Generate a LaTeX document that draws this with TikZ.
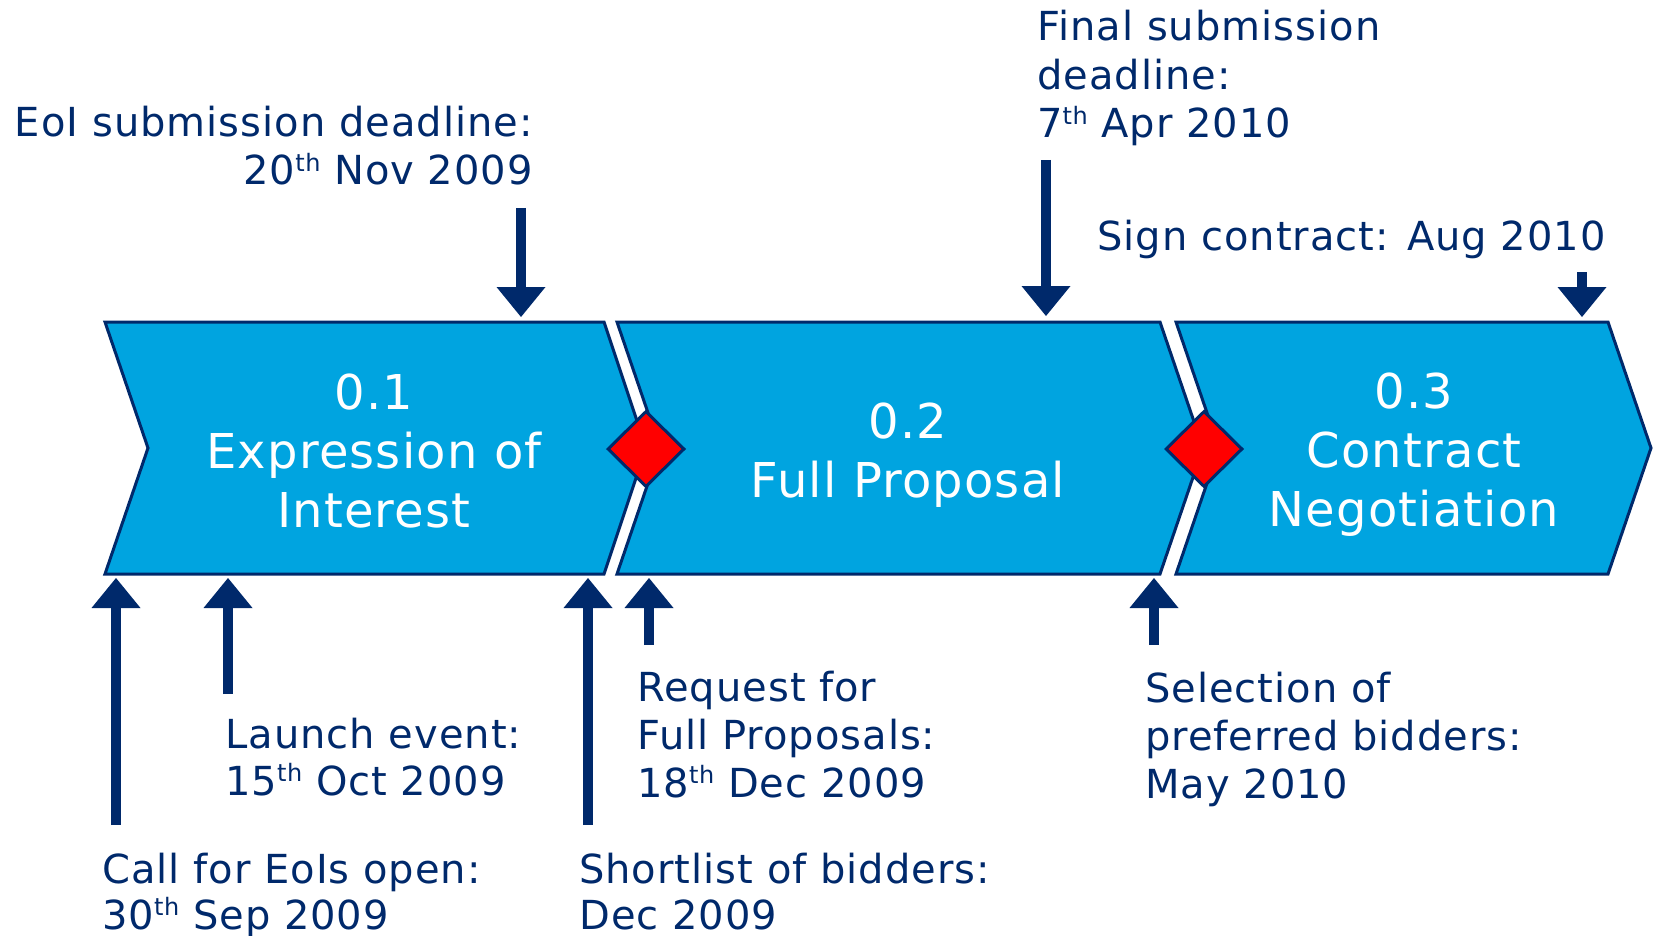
\documentclass[tikz,border=0pt]{standalone}
\usepackage{fontspec}
\setmainfont{DejaVu Sans}
\usepackage{graphicx}
\usetikzlibrary{arrows.meta,shapes.geometric}

\definecolor{navy}{RGB}{0,41,107}
\definecolor{phaseblue}{RGB}{0,164,224}
\definecolor{gatered}{RGB}{255,0,0}

% ordinal suffix, raised and reduced
\newcommand\ordth{\raisebox{0.33em}{\scalebox{0.6}{th}}}
% stacked lines; the box baseline is the baseline of the first line
\newcommand\linesL[2]{\vtop{\baselineskip=#1\halign{##\hfil\cr#2\crcr}}}
\newcommand\linesR[2]{\vtop{\baselineskip=#1\halign{\hfil##\cr#2\crcr}}}
\newcommand\linesC[2]{\vtop{\baselineskip=#1\halign{\hfil##\hfil\cr#2\crcr}}}

\begin{document}
\begin{tikzpicture}[x=1pt,y=-1pt,
  phase/.style={fill=phaseblue,draw=navy,line width=3pt,line join=miter},
  gate/.style={diamond,aspect=1,fill=gatered,draw=navy,line width=3pt,
    minimum width=77pt,minimum height=76pt,inner sep=0pt},
  milestone/.style={draw=navy,line width=10.5pt,
    -{Triangle[width=49pt,length=30pt,line width'=0pt]}},
  lbl/.style={text=navy,inner sep=0pt,
    font=\fontsize{40}{47.5}\selectfont\addfontfeature{LetterSpace=2.5}},
  phasetext/.style={text=white,inner sep=0pt,
    font=\fontsize{48}{59}\selectfont\addfontfeature{LetterSpace=2.5}}]

\useasboundingbox (0,0) rectangle (1654,936);

% ---- phase chevrons ----
\draw[phase] (105,322) -- (604,322) -- (646,448) -- (604,574) -- (105,574) -- (148,448) -- cycle;
\draw[phase] (617,322) -- (1160,322) -- (1203,448) -- (1160,574) -- (617,574) -- (660,448) -- cycle;
\draw[phase] (1176,322) -- (1608,322) -- (1651,448) -- (1608,574) -- (1176,574) -- (1219,448) -- cycle;

\node[phasetext,anchor=base] (phase1) at (374,409) {\linesC{59pt}{0.1\cr Expression of\cr Interest}};
\node[phasetext,anchor=base] (phase2) at (908,438) {\linesC{59pt}{0.2\cr Full Proposal}};
\node[phasetext,anchor=base] (phase3) at (1414,408) {\linesC{59pt}{0.3\cr Contract\cr Negotiation}};

% ---- decision gates ----
\node[gate] (gate1) at (646,449) {};
\node[gate] (gate2) at (1204,449) {};

% ---- milestone labels ----
\node[lbl,anchor=base east] (eoiLbl) at (533,137)
  {\linesR{47.5pt}{EoI submission deadline:\cr 20\ordth{} Nov 2009}};
\node[lbl,anchor=base west] (finalLbl) at (1037,41)
  {\linesL{48.5pt}{Final submission\cr deadline:\cr 7\ordth{} Apr 2010}};
\node[lbl,anchor=base west] (signLbl) at (1097,250) {Sign contract: Aug 2010};
\node[lbl,anchor=base west] (launchLbl) at (225,748)
  {\linesL{47pt}{Launch event:\cr 15\ordth{} Oct 2009}};
\node[lbl,anchor=base west] (callLbl) at (102,883)
  {\linesL{46pt}{Call for EoIs open:\cr 30\ordth{} Sep 2009}};
\node[lbl,anchor=base west] (shortLbl) at (579,883)
  {\linesL{46pt}{Shortlist of bidders:\cr Dec 2009}};
\node[lbl,anchor=base west] (requestLbl) at (637,701)
  {\linesL{48pt}{Request for\cr Full Proposals:\cr 18\ordth{} Dec 2009}};
\node[lbl,anchor=base west] (selectLbl) at (1145,702)
  {\linesL{48pt}{Selection of\cr preferred bidders:\cr May 2010}};

% ---- milestone arrows ----
\coordinate (eoiTail) at (521,208);    \coordinate (eoiTip) at (521,317);
\coordinate (finalTail) at (1046,160); \coordinate (finalTip) at (1046,316);
\coordinate (signTail) at (1582,272);  \coordinate (signTip) at (1582,317);
\coordinate (callTail) at (116,825);   \coordinate (callTip) at (116,578);
\coordinate (launchTail) at (228,694); \coordinate (launchTip) at (228,578);
\coordinate (shortTail) at (588,825);  \coordinate (shortTip) at (588,578);
\coordinate (requestTail) at (649,645);\coordinate (requestTip) at (649,578);
\coordinate (selectTail) at (1154,645);\coordinate (selectTip) at (1154,578);

\draw[milestone] (eoiTail) -- (eoiTip);
\draw[milestone] (finalTail) -- (finalTip);
\draw[milestone] (signTail) -- (signTip);
\draw[milestone] (callTail) -- (callTip);
\draw[milestone] (launchTail) -- (launchTip);
\draw[milestone] (shortTail) -- (shortTip);
\draw[milestone] (requestTail) -- (requestTip);
\draw[milestone] (selectTail) -- (selectTip);
\end{tikzpicture}
\end{document}
